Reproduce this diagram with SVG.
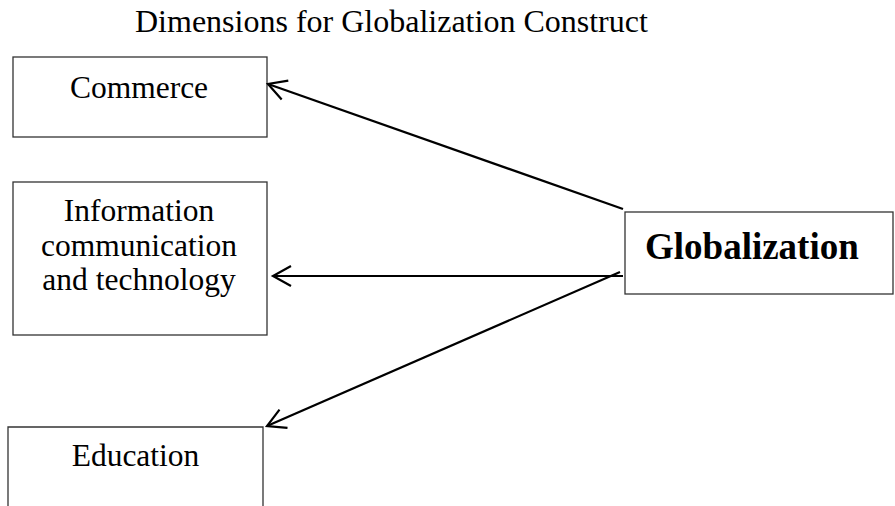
<svg xmlns="http://www.w3.org/2000/svg" width="895" height="506" viewBox="0 0 895 506">
  <style>
    .box { fill: #ffffff; stroke: #333333; stroke-width: 1.3; }
    .lbl { font-family: "Liberation Serif", "Times New Roman", serif; font-size: 31.5px; fill: #000000; }
    .ttl { font-family: "Liberation Serif", "Times New Roman", serif; font-size: 32px; fill: #000000; }
    .big { font-family: "Liberation Serif", "Times New Roman", serif; font-size: 37px; font-weight: bold; fill: #000000; }
    .conn { stroke: #000000; stroke-width: 2.2; fill: none; marker-end: url(#open); }
  </style>
  <defs>
    <marker id="open" markerUnits="userSpaceOnUse" markerWidth="26" markerHeight="26" viewBox="0 0 26 26" refX="22" refY="13" orient="auto">
      <path d="M4 3 L22 13 L4 23" fill="none" stroke="#000000" stroke-width="2.2"/>
    </marker>
  </defs>
  <rect width="895" height="506" fill="#ffffff"/>

  <text id="title" class="ttl" x="135" y="32">Dimensions for Globalization Construct</text>

  <g id="commerce">
    <rect class="box" x="13" y="57" width="254" height="80"/>
    <text class="lbl" x="139" y="98" text-anchor="middle">Commerce</text>
  </g>

  <g id="ict">
    <rect class="box" x="13" y="182" width="254" height="153"/>
    <text class="lbl" x="139" y="221" text-anchor="middle">Information</text>
    <text class="lbl" x="139" y="256" text-anchor="middle">communication</text>
    <text class="lbl" x="139" y="290" text-anchor="middle">and technology</text>
  </g>

  <g id="education">
    <path class="box" d="M8 507 V427 H263 V507"/>
    <text class="lbl" x="135.5" y="466" text-anchor="middle">Education</text>
  </g>

  <g id="globalization">
    <rect class="box" x="625" y="212" width="268" height="82"/>
    <text class="big" x="645" y="259">Globalization</text>
  </g>

  <g id="connectors">
    <line class="conn" x1="623" y1="209" x2="268" y2="84"/>
    <line class="conn" x1="623" y1="276" x2="273" y2="276"/>
    <line class="conn" x1="620" y1="272" x2="267" y2="426"/>
  </g>
</svg>
